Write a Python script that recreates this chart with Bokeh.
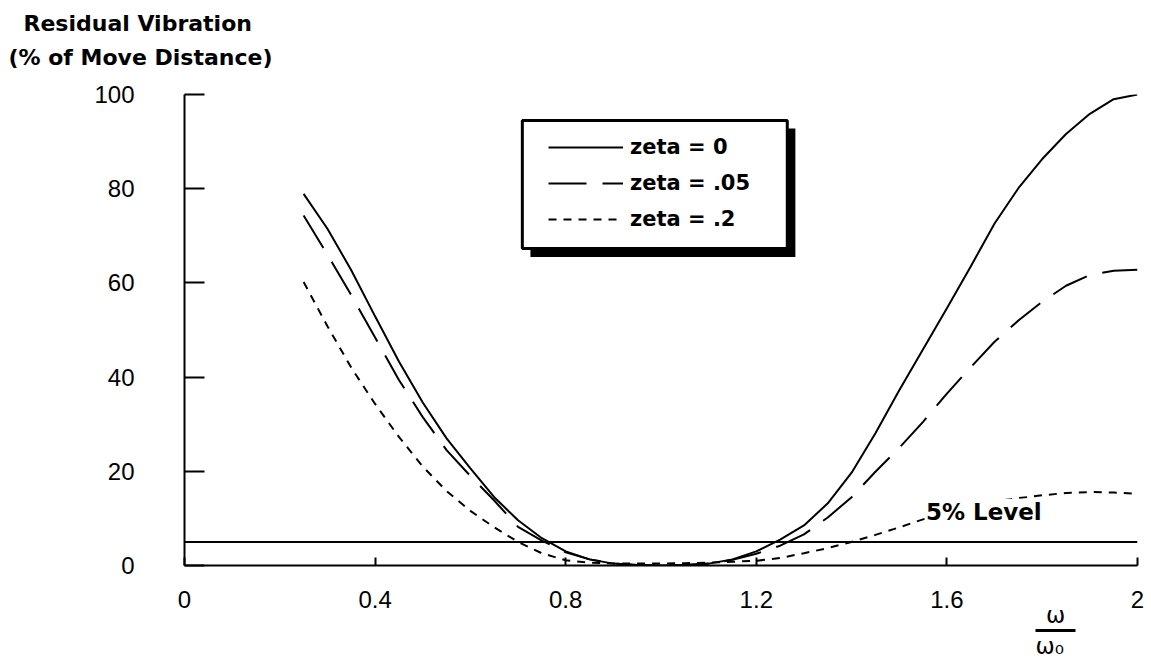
from bokeh.plotting import figure
from bokeh.models import (Range1d, FixedTicker, Span, Label, BoxAnnotation,
                          Legend, LegendItem, LinearAxis, Title)
from bokeh.embed import file_html
from bokeh.resources import INLINE

# ---- data ----
freq_ratio = [0.25, 0.30, 0.35, 0.40, 0.45, 0.50, 0.55, 0.60, 0.65, 0.70,
              0.75, 0.80, 0.85, 0.90, 0.95, 1.00, 1.05, 1.10, 1.15, 1.20,
              1.25, 1.30, 1.35, 1.40, 1.45, 1.50, 1.55, 1.60, 1.65, 1.70,
              1.75, 1.80, 1.85, 1.90, 1.95, 2.00]
vib_zeta_0 = [78.9, 71.5, 62.7, 52.9, 43.3, 34.6, 27.0, 20.6, 14.5, 9.6,
              5.8, 3.0, 1.3, 0.4, 0.1, 0.0, 0.1, 0.4, 1.3, 3.0,
              5.5, 8.5, 13.2, 19.7, 28.1, 37.2, 45.9, 54.6, 63.5, 72.6,
              80.1, 86.3, 91.6, 95.9, 99.0, 100.0]
vib_zeta_005 = [74.3, 66.0, 57.4, 48.4, 39.4, 31.5, 24.5, 19.0, 13.8, 8.2,
                5.3, 2.8, 1.3, 0.4, 0.1, 0.0, 0.1, 0.4, 1.2, 2.5,
                4.2, 6.6, 10.2, 14.5, 19.9, 25.0, 30.5, 36.5, 42.1, 47.5,
                52.0, 56.0, 59.4, 61.7, 62.6, 62.8]
vib_zeta_02 = [60.2, 50.8, 42.0, 34.3, 27.3, 21.0, 15.8, 11.6, 8.1, 5.0,
               2.6, 1.1, 0.6, 0.4, 0.4, 0.4, 0.5, 0.6, 0.8, 1.0,
               1.6, 2.6, 3.7, 5.0, 6.5, 8.1, 9.8, 11.3, 12.6, 13.6,
               14.3, 14.9, 15.4, 15.6, 15.5, 15.2]
series_labels = ["zeta = 0", "zeta = .05", "zeta = .2"]
level_value = 5
level_label = "5% Level"
x_ticks = [0, 0.4, 0.8, 1.2, 1.6, 2]
x_tick_labels = ["0", "0.4", "0.8", "1.2", "1.6", "2"]
y_ticks = [0, 20, 40, 60, 80, 100]
y_tick_labels = ["0", "20", "40", "60", "80", "100"]
y_title_lines = ["Residual Vibration", "(% of Move Distance)"]
x_title_num = "ω"
x_title_den = "ω₀"

BOLD = "DejaVu Sans"
REG = "Liberation Sans"

p = figure(width=1148, height=662, output_backend="svg", toolbar_location=None,
           x_range=Range1d(0, 2), y_range=Range1d(0, 100),
           min_border_left=184, min_border_right=11,
           min_border_top=94, min_border_bottom=97)
p.outline_line_color = None
p.xgrid.visible = False
p.ygrid.visible = False
p.background_fill_color = "white"
p.border_fill_color = "white"

for ax, ticks, labels, tick_in, standoff in (
        (p.xaxis[0], x_ticks, x_tick_labels, 8, 25),
        (p.yaxis[0], y_ticks, y_tick_labels, 20, 50)):
    ax.ticker = FixedTicker(ticks=ticks)
    ax.major_label_overrides = dict(zip(ticks, labels))
    ax.major_tick_in = tick_in
    ax.major_tick_out = 0
    ax.minor_tick_in = 0
    ax.minor_tick_out = 0
    ax.axis_line_width = 2
    ax.major_tick_line_width = 2
    ax.axis_line_color = "black"
    ax.major_tick_line_color = "black"
    ax.major_label_text_font = REG
    ax.major_label_text_font_size = "24px"
    ax.major_label_text_color = "black"
    ax.major_label_standoff = standoff

r0 = p.line(freq_ratio, vib_zeta_0, line_color="black", line_width=2)
r1 = p.line(freq_ratio, vib_zeta_005, line_color="black", line_width=2,
            line_dash="38 16")
r2 = p.line(freq_ratio, vib_zeta_02, line_color="black", line_width=2,
            line_dash="8 7")

p.add_layout(Span(location=level_value, dimension="width",
                  line_color="black", line_width=2))
p.add_layout(Label(x=1.556, y=11.4, text=level_label, text_font=BOLD,
                   text_font_style="bold", text_font_size="23px",
                   text_baseline="middle", text_color="black",
                   background_fill_color="white"))

# legend box with drop shadow
p.add_layout(BoxAnnotation(left=0.726, right=1.282, top=92.8, bottom=65.5,
                           fill_color="black", fill_alpha=1.0,
                           line_color=None))
p.add_layout(BoxAnnotation(left=0.709, right=1.265, top=94.5, bottom=67.3,
                           fill_color="white", fill_alpha=1.0,
                           line_color="black", line_alpha=1.0, line_width=3))
legend = Legend(items=[LegendItem(label=series_labels[0], renderers=[r0]),
                       LegendItem(label=series_labels[1], renderers=[r1]),
                       LegendItem(label=series_labels[2], renderers=[r2])],
                location=(364, 331), padding=0, margin=0, spacing=6,
                glyph_width=75, glyph_height=30, label_height=30,
                label_standoff=7,
                label_text_font=BOLD, label_text_font_style="bold",
                label_text_font_size="21px", label_text_color="black",
                border_line_color=None, background_fill_alpha=0)
p.add_layout(legend)

# x-axis title as a fraction omega / omega_0, built from two short axes:
# the first only carries the numerator as a tick label, the second's
# bounded axis line is the fraction bar and its tick label the denominator
num_tick = 1.828
den_tick = 1.816
frac_bounds = (1.786, 1.870)
num_axis = LinearAxis(bounds=frac_bounds, ticker=FixedTicker(ticks=[num_tick]),
                      major_label_overrides={num_tick: x_title_num},
                      axis_line_color=None, major_tick_in=0, major_tick_out=0,
                      major_label_standoff=-9,
                      major_label_text_font="DejaVu Sans",
                      major_label_text_font_size="23px",
                      major_label_text_color="black")
den_axis = LinearAxis(bounds=frac_bounds, ticker=FixedTicker(ticks=[den_tick]),
                      major_label_overrides={den_tick: x_title_den},
                      axis_line_color="black", axis_line_width=3,
                      major_tick_in=0, major_tick_out=0,
                      major_label_standoff=2,
                      major_label_text_font="DejaVu Sans",
                      major_label_text_font_size="23px",
                      major_label_text_color="black")
p.add_layout(num_axis, "below")
p.add_layout(den_axis, "below")

# y-axis title (two lines, top left); a blank spacer title sits next to the frame
p.add_layout(Title(text=" ", standoff=12, text_font_size="10px"), "above")
for txt, off, so in ((y_title_lines[1], -176, 0), (y_title_lines[0], -161, 14)):
    p.add_layout(Title(text=txt, align="left", offset=off, standoff=so,
                       vertical_align="bottom", text_font=BOLD,
                       text_font_style="bold", text_font_size="22px",
                       text_color="black"), "above")

open("out.html", "w").write(file_html(p, INLINE))
